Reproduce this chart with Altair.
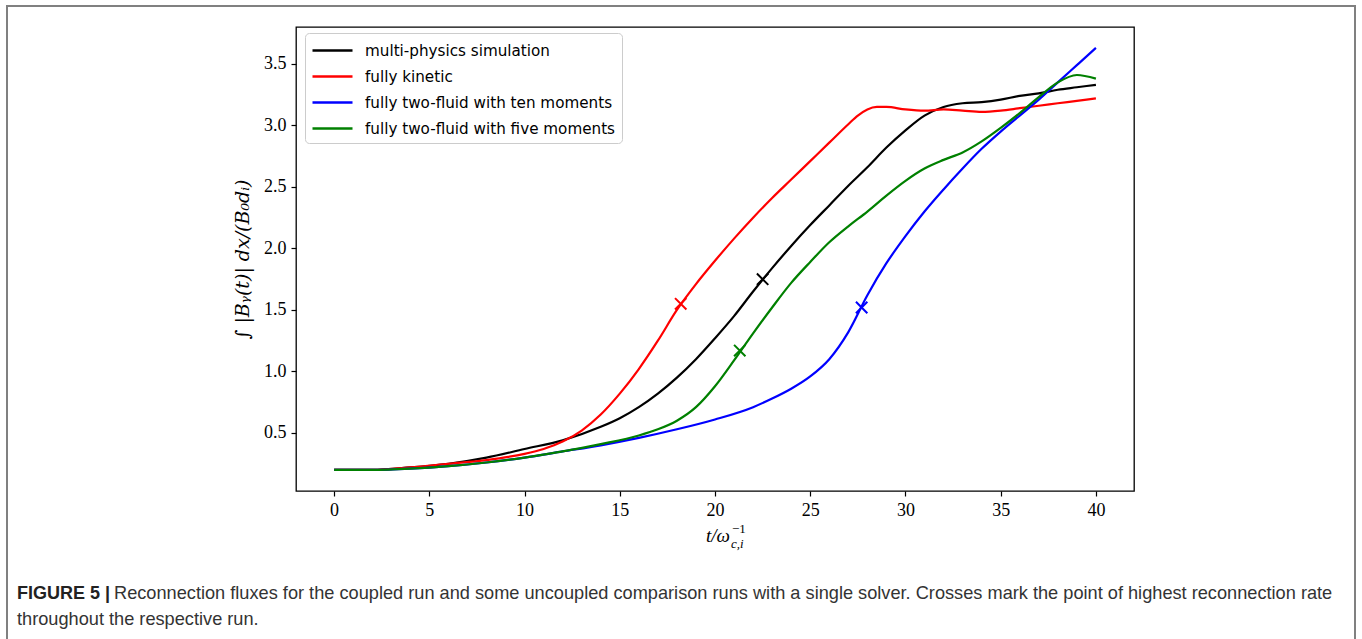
import altair as alt
import pandas as pd

series_names = ["multi-physics simulation", "fully kinetic",
                "fully two-fluid with ten moments", "fully two-fluid with five moments"]
series_colors = ["#000000", "#ff0000", "#0000ff", "#008000"]

t_black = [0, 2, 4, 6, 8, 10, 12, 14, 15, 16, 17, 18, 19, 20, 21, 22, 23, 24, 25, 26, 27, 28, 29, 30,
           31, 32, 33, 34, 35, 36, 37, 38, 39, 40]
v_black = [0.20, 0.20, 0.22, 0.25, 0.30, 0.37, 0.44, 0.55, 0.62, 0.71, 0.82, 0.95, 1.10, 1.27, 1.45, 1.65,
           1.84, 2.02, 2.19, 2.35, 2.51, 2.66, 2.82, 2.96, 3.08, 3.15, 3.18, 3.19, 3.21, 3.24, 3.26,
           3.29, 3.31, 3.33]

t_red = [0, 2, 4, 6, 8, 10, 11, 12, 13, 14, 15, 16, 17, 18, 19, 20, 21, 22, 23, 24, 25, 26, 27, 27.5,
         28, 28.5, 29, 30, 31, 32, 33, 34, 35, 36, 37, 38, 39, 40]
v_red = [0.20, 0.20, 0.22, 0.25, 0.28, 0.33, 0.37, 0.43, 0.52, 0.65, 0.82, 1.02, 1.25, 1.50, 1.71,
         1.90, 2.08, 2.25, 2.41, 2.56, 2.71, 2.86, 3.01, 3.08, 3.13, 3.15, 3.15, 3.13, 3.12, 3.13, 3.12,
         3.11, 3.12, 3.14, 3.16, 3.18, 3.20, 3.22]

t_blue = [0, 2, 4, 6, 8, 10, 12, 14, 16, 18, 20, 22, 23, 24, 25, 26, 27, 28, 29, 30, 31, 32, 33, 34,
          35, 36, 37, 38, 39, 40]
v_blue = [0.20, 0.20, 0.21, 0.23, 0.26, 0.30, 0.35, 0.40, 0.46, 0.53, 0.61, 0.71, 0.78, 0.86, 0.96, 1.10,
          1.32, 1.62, 1.88, 2.10, 2.30, 2.48, 2.65, 2.81, 2.95, 3.08, 3.21, 3.35, 3.49, 3.63]

t_green = [0, 2, 4, 6, 8, 10, 12, 14, 16, 17, 18, 19, 20, 21, 22, 23, 24, 25, 26, 27, 28, 29, 30, 31,
           32, 33, 34, 35, 36, 37, 38, 39, 40]
v_green = [0.20, 0.20, 0.21, 0.23, 0.26, 0.30, 0.35, 0.41, 0.48, 0.53, 0.60, 0.71, 0.88, 1.09, 1.31,
           1.52, 1.72, 1.89, 2.05, 2.18, 2.30, 2.43, 2.55, 2.65, 2.72, 2.78, 2.87, 2.98, 3.10, 3.23, 3.35,
           3.41, 3.38]

cross_t = [22.5, 18.2, 27.7, 21.3]
cross_v = [1.75, 1.55, 1.52, 1.17]

x_ticks = [0, 5, 10, 15, 20, 25, 30, 35, 40]
y_ticks = [0.5, 1.0, 1.5, 2.0, 2.5, 3.0, 3.5]

caption_bold = "FIGURE 5 |"
caption_line1 = ("Reconnection fluxes for the coupled run and some uncoupled comparison runs with a single "
                 "solver. Crosses mark the point of highest reconnection rate")
caption_line2 = "throughout the respective run."

rows = []
for name, ts, vs in zip(series_names, [t_black, t_red, t_blue, t_green],
                        [v_black, v_red, v_blue, v_green]):
    for t, v in zip(ts, vs):
        rows.append({"series": name, "t": t, "v": v})
df = pd.DataFrame(rows)
cross_df = pd.DataFrame({"series": series_names, "t": cross_t, "v": cross_v})

W, H = 838, 464
xs = alt.Scale(domain=[-2, 42], nice=False, zero=False)
ys = alt.Scale(domain=[0.0285, 3.80], nice=False, zero=False)
color_scale = alt.Scale(domain=series_names, range=series_colors)

lines = alt.Chart(df).mark_line(strokeWidth=2.2, interpolate="monotone").encode(
    x=alt.X("t:Q", scale=xs, axis=alt.Axis(values=x_ticks, title=None)),
    y=alt.Y("v:Q", scale=ys, axis=alt.Axis(values=y_ticks, format=".1f",
                                           title="∫ |Bᵧ(t)| dx/(B₀dᵢ)")),
    color=alt.Color("series:N", scale=color_scale, sort=series_names,
                    legend=alt.Legend(orient="none", legendX=9, legendY=6, title=None,
                                      symbolType="M-1,0L3,0", symbolSize=400,
                                      symbolStrokeWidth=2.4, labelOffset=31,
                                      padding=6, rowPadding=6, cornerRadius=4,
                                      strokeColor="#cccccc", fillColor="white",
                                      labelFont="DejaVu Sans", labelFontSize=15.2,
                                      labelLimit=0, labelColor="black")),
    detail="series:N",
)

crosses = alt.Chart(cross_df).mark_point(
    shape="M-1,-1L1,1M-1,1L1,-1", filled=False, size=130, strokeWidth=2, opacity=1
).encode(
    x=alt.X("t:Q", scale=xs),
    y=alt.Y("v:Q", scale=ys),
    color=alt.Color("series:N", scale=color_scale, legend=None),
)

xtitle_main = alt.Chart(pd.DataFrame({"s": ["t/ω"]})).mark_text(
    font="Liberation Serif", fontSize=19, fontStyle="italic", align="right", baseline="alphabetic"
).encode(x=alt.value(W / 2 + 15), y=alt.value(H + 51), text="s:N")
xtitle_sup = alt.Chart(pd.DataFrame({"s": ["−1"]})).mark_text(
    font="Liberation Serif", fontSize=13, align="left", baseline="alphabetic"
).encode(x=alt.value(W / 2 + 17), y=alt.value(H + 42), text="s:N")
xtitle_sub = alt.Chart(pd.DataFrame({"s": ["c,i"]})).mark_text(
    font="Liberation Serif", fontSize=13, fontStyle="italic", align="left", baseline="alphabetic"
).encode(x=alt.value(W / 2 + 16), y=alt.value(H + 57), text="s:N")

frame = alt.Chart(pd.DataFrame({"a": [0]})).mark_rect(
    fill=None, fillOpacity=0, stroke="#808080", strokeWidth=2
).encode(x=alt.value(-289), x2=alt.value(1059), y=alt.value(-21), y2=alt.value(700))

cap_b = alt.Chart(pd.DataFrame({"s": [caption_bold]})).mark_text(
    font="Liberation Sans", fontSize=18, fontWeight="bold", align="left", baseline="middle", color="#222222"
).encode(x=alt.value(-279), y=alt.value(567), text="s:N")
cap_1 = alt.Chart(pd.DataFrame({"s": [caption_line1]})).mark_text(
    font="Liberation Sans", fontSize=18.2, align="left", baseline="middle", color="#333333"
).encode(x=alt.value(-182), y=alt.value(567), text="s:N")
cap_2 = alt.Chart(pd.DataFrame({"s": [caption_line2]})).mark_text(
    font="Liberation Sans", fontSize=18.2, align="left", baseline="middle", color="#333333"
).encode(x=alt.value(-279), y=alt.value(593), text="s:N")

chart = alt.layer(frame, lines, crosses, xtitle_main, xtitle_sup, xtitle_sub, cap_b, cap_1, cap_2).properties(
    width=W, height=H,
    autosize=alt.AutoSizeParams(type="none"),
    padding={"left": 296, "top": 27, "right": 1362 - 296 - W, "bottom": 639 - 27 - H},
    background="white",
).configure_view(
    stroke="black", strokeWidth=1.3
).configure_axis(
    grid=False, domain=False, tickColor="black", tickSize=5, tickWidth=1.2,
    labelFont="Liberation Serif", labelFontSize=18, labelColor="black", labelPadding=5,
    titleFont="DejaVu Serif", titleFontSize=19, titleFontStyle="italic", titleFontWeight="normal",
    titleColor="black",
).configure_axisY(titlePadding=11)

chart.save("out.html", embed_options={"renderer": "svg", "actions": False})
